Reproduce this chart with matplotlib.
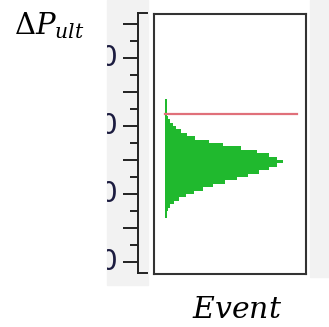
import matplotlib
matplotlib.use("Agg")
import matplotlib.pyplot as plt
from matplotlib.patches import Rectangle

# histogram of the ultimate pressure change (bin centres, event counts)
bin_centres = [9.5, 9.3, 9.1, 8.9, 8.7, 8.5, 8.3, 8.1, 7.9, 7.7, 7.5, 7.3,
               7.1, 6.9, 6.7, 6.5, 6.3, 6.1, 5.9, 5.7, 5.5, 5.3, 5.1, 4.9,
               4.7, 4.5, 4.3, 4.1, 3.9, 3.7, 3.5, 3.3, 3.1, 2.9, 2.7]
counts = [2, 2, 2, 2, 2, 3, 5, 8, 11, 16, 22, 30,
          44, 58, 76, 92, 104, 112, 118, 112, 104, 94, 83, 72,
          60, 48, 38, 29, 21, 14, 9, 5, 3, 2, 2]
bin_width = 0.2
threshold = 8.71
tick_values = [0, 4, 8, 12]
tick_labels = ["0", "0", "0", "0"]

W, H = 329, 327
fig = plt.figure(figsize=(W / 100, H / 100), dpi=100)


def rect(x0, y0, x1, y1):
    """pixel box (top-left origin) -> figure fraction rect"""
    return [x0 / W, 1 - y1 / H, (x1 - x0) / W, (y1 - y0) / H]


def px_y(v):
    return 262 - 17 * v


# screenshot background pieces
grey = "#f2f2f2"
left_panel = Rectangle((107 / W, 1 - 285 / H), 41 / W, 285 / H,
                       transform=fig.transFigure, color=grey, zorder=-1)
fig.patches.append(left_panel)
fig.patches.append(Rectangle((310 / W, 1 - 277 / H), 19 / W, 277 / H,
                             transform=fig.transFigure, color=grey, zorder=-1))

# bracket-style axis with ticks
tax = fig.add_axes(rect(138, 13, 147, 273))
tax.set_zorder(2)
tax.patch.set_alpha(0)
tax.set_ylim(-0.647, 14.647)
tax.set_xlim(0, 1)
tax.spines["right"].set_visible(False)
for s in ("left", "top", "bottom"):
    tax.spines[s].set_linewidth(1.4)
    tax.spines[s].set_color("#222222")
tax.set_xticks([])
tax.set_yticks(range(0, 15, 2))
tax.set_yticks(range(1, 15, 2), minor=True)
tax.tick_params(axis="y", which="major", length=10.8, width=1.4, color="#222222", labelleft=False)
tax.tick_params(axis="y", which="minor", length=5.8, width=1.4, color="#222222")

for v, lab in zip(tick_values, tick_labels):
    t = fig.text(117 / W, 1 - px_y(v) / H, lab, ha="right", va="center",
                 fontsize=20, color="#1c1c40", zorder=3)
    t.set_clip_path(left_panel)

# main plot box
ax = fig.add_axes(rect(154, 14, 306, 274))
ax.set_zorder(2)
ax.set_xlim(-11, 141)
ax.set_ylim(-0.706, 14.588)
ax.barh(bin_centres, counts, height=bin_width, left=0, color="#20b92e", linewidth=0)
ax.plot([0, 132], [threshold, threshold], color="#e0707a", linewidth=1.6)
ax.set_xticks([])
ax.set_yticks([])
for s in ax.spines.values():
    s.set_linewidth(1.5)
    s.set_color("#333333")

fig.text(14 / W, 1 - 34 / H, r"$\Delta P_{ult}$", fontsize=21, ha="left",
         va="baseline", math_fontfamily="dejavuserif")
fig.text(237 / W, 1 - 318 / H, r"$Event$", fontsize=21.5, ha="center",
         va="baseline", math_fontfamily="dejavuserif")

fig.savefig("out.png", dpi=100)
